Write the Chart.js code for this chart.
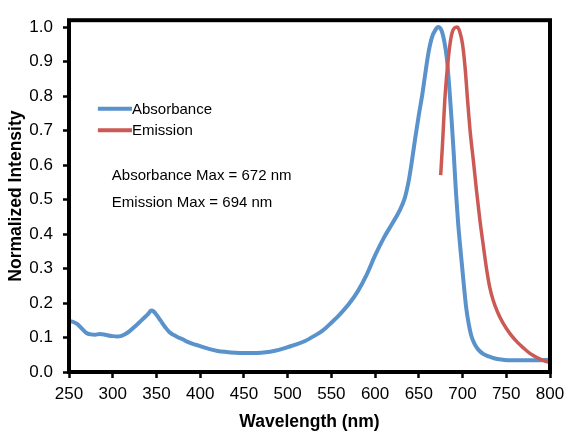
<!DOCTYPE html>
<html>
<head>
<meta charset="utf-8">
<script src="https://cdn.jsdelivr.net/npm/chart.js@4/dist/chart.umd.min.js"></script>
<style>
  html, body { margin: 0; padding: 0; background: #ffffff; }
  #wrap { position: relative; width: 574px; height: 445px; }
</style>
</head>
<body>
<div id="wrap"><canvas id="c" width="574" height="445"></canvas></div>
<script>
// ---- data ----
const absWavelength = [250,255,260,265,270,275,280,285,290,295,300,305,310,315,320,325,330,335,340,344,347,350,355,360,365,370,375,380,385,390,395,400,410,420,430,440,450,460,470,480,490,500,510,520,530,540,550,560,570,580,590,600,610,620,628,634,638,642,646,650,654,657,661,665,669,672,676,679,682,685,687.5,690,692.5,695,698,701,704,707,710,714,718,724,730,737,745,755,765,775,785,795,800];
const absValues     = [0.148,0.145,0.138,0.125,0.113,0.109,0.108,0.110,0.109,0.106,0.104,0.103,0.105,0.111,0.120,0.131,0.143,0.155,0.167,0.178,0.175,0.166,0.148,0.130,0.115,0.107,0.100,0.095,0.088,0.083,0.079,0.075,0.067,0.061,0.058,0.056,0.055,0.055,0.056,0.059,0.064,0.072,0.080,0.090,0.104,0.120,0.143,0.168,0.197,0.233,0.280,0.338,0.389,0.432,0.468,0.505,0.548,0.610,0.680,0.745,0.805,0.858,0.925,0.970,0.992,1.000,0.990,0.960,0.910,0.820,0.730,0.630,0.520,0.430,0.345,0.265,0.190,0.140,0.105,0.080,0.065,0.052,0.045,0.039,0.036,0.034,0.034,0.034,0.034,0.035,0.036];

const emWavelength = [675,677,680,684,687.5,690.5,694,697,700,703,706,709,712.5,716,720,724,727.5,731,735,740,746,754,762,770,777,785,792,800];
const emValues     = [0.571,0.657,0.800,0.916,0.978,0.997,1.000,0.985,0.950,0.880,0.780,0.690,0.610,0.525,0.437,0.362,0.298,0.247,0.208,0.174,0.143,0.112,0.088,0.069,0.054,0.042,0.034,0.027];

const seriesNames = ['Absorbance', 'Emission'];
const xTicks = [250,300,350,400,450,500,550,600,650,700,750,800];
const yTicks = [0.0,0.1,0.2,0.3,0.4,0.5,0.6,0.7,0.8,0.9,1.0];
const notes = ['Absorbance Max = 672 nm', 'Emission Max = 694 nm'];
const xTitle = 'Wavelength (nm)';
const yTitle = 'Normalized Intensity';

// ---- styles ----
const BLUE = '#5A92CC';
const RED = '#CB5A55';
const FONT = '"Liberation Sans", Arial, sans-serif';

const toPoints = (xs, ys) => xs.map((x, i) => ({ x: x, y: ys[i] }));

const framePlugin = {
  id: 'frame',
  afterDatasetsDraw(chart) {
    const { ctx, chartArea: a } = chart;
    ctx.save();
    ctx.strokeStyle = '#000';
    ctx.lineWidth = 4;
    ctx.strokeRect(a.left, a.top, a.right - a.left, a.bottom - a.top);
    ctx.restore();
  }
};

const legendNotesPlugin = {
  id: 'legendNotes',
  afterDraw(chart) {
    const { ctx } = chart;
    const xs = chart.scales.x, ys = chart.scales.y;
    ctx.save();
    const colors = [BLUE, RED];
    const lx0 = xs.getPixelForValue(283), lx1 = xs.getPixelForValue(322);
    const ly = [ys.getPixelForValue(0.763), ys.getPixelForValue(0.701)];
    ctx.font = '15px ' + FONT;
    ctx.textBaseline = 'middle';
    ctx.textAlign = 'left';
    seriesNames.forEach((n, i) => {
      ctx.strokeStyle = colors[i];
      ctx.lineWidth = 4;
      ctx.beginPath();
      ctx.moveTo(lx0, ly[i]);
      ctx.lineTo(lx1, ly[i]);
      ctx.stroke();
      ctx.fillStyle = '#000';
      ctx.fillText(n, lx1, ly[i] + 1);
    });
    const nx = xs.getPixelForValue(299);
    const ny = [ys.getPixelForValue(0.569), ys.getPixelForValue(0.489)];
    notes.forEach((t, i) => ctx.fillText(t, nx, ny[i]));
    ctx.restore();
  }
};

new Chart(document.getElementById('c'), {
  type: 'line',
  data: {
    datasets: [
      { label: seriesNames[0], data: toPoints(absWavelength, absValues), borderColor: BLUE, borderWidth: 4, pointRadius: 0, cubicInterpolationMode: 'monotone', order: 1, fill: false },
      { label: seriesNames[1], data: toPoints(emWavelength, emValues), borderColor: RED, borderWidth: 3.5, pointRadius: 0, cubicInterpolationMode: 'monotone', order: 0, fill: false }
    ]
  },
  options: {
    responsive: false,
    animation: false,
    layout: { padding: { left: 0, right: 24, top: 17, bottom: 0 } },
    plugins: { legend: { display: false }, tooltip: { enabled: false } },
    scales: {
      x: {
        type: 'linear', min: 250, max: 800,
        afterFit(s) { s.height = 73; },
        afterBuildTicks(s) { s.ticks = xTicks.map(v => ({ value: v })); },
        ticks: { color: '#000', font: { family: FONT, size: 17 }, padding: 6, maxRotation: 0, autoSkip: false, callback: v => String(v) },
        grid: { drawOnChartArea: false, drawTicks: true, tickLength: 6, tickColor: '#000', tickWidth: 2.5 },
        border: { display: false },
        title: { display: true, text: xTitle, color: '#000', font: { family: FONT, size: 17.5, weight: 'bold' }, padding: { top: 0, bottom: 12 } }
      },
      y: {
        type: 'linear', min: 0, max: 1.02,
        afterFit(s) { s.width = 69; },
        afterBuildTicks(s) { s.ticks = yTicks.map(v => ({ value: v })); },
        ticks: { color: '#000', font: { family: FONT, size: 17 }, padding: 10, autoSkip: false, callback: v => Number(v).toFixed(1) },
        grid: { drawOnChartArea: false, drawTicks: true, tickLength: 6, tickColor: '#000', tickWidth: 2.5 },
        border: { display: false },
        title: { display: true, text: yTitle, color: '#000', font: { family: FONT, size: 17.5, weight: 'bold' }, padding: { top: 6, bottom: 0 } }
      }
    }
  },
  plugins: [framePlugin, legendNotesPlugin]
});
</script>
</body>
</html>
